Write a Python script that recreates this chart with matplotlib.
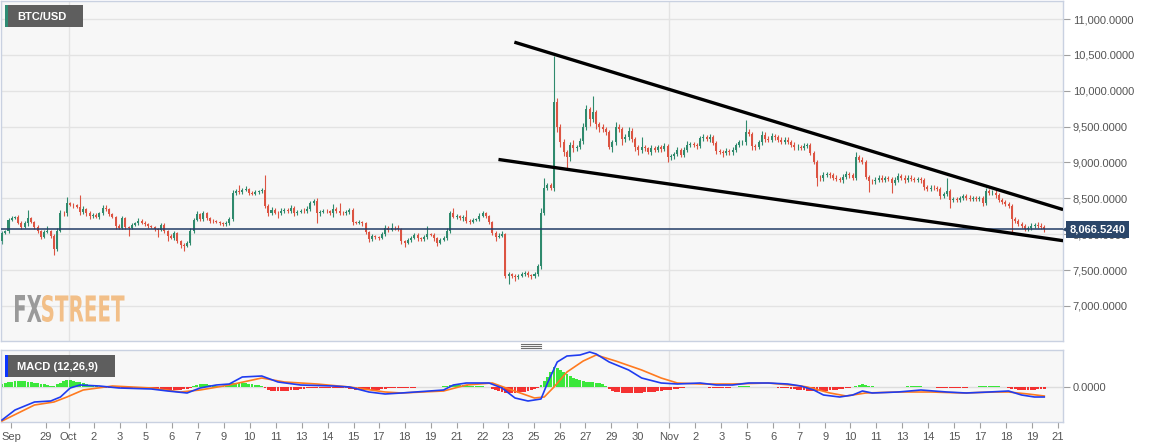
import matplotlib
matplotlib.use('Agg')
import matplotlib.pyplot as plt
import numpy as np
from matplotlib.textpath import TextPath
from matplotlib.patches import PathPatch, Rectangle
from matplotlib.font_manager import FontProperties
from matplotlib.lines import Line2D
import matplotlib.transforms as mtransforms

plt.rcParams['font.family'] = ['Liberation Sans', 'DejaVu Sans']

# ---------------- data ----------------
first_open = 7900
closes = [
    8020, 8040, 8200, 8230, 8240, 8160, 8100, 8150, 8220, 8170,
    8100, 8040, 7960, 8030, 8040, 7980, 7800, 8050, 8300, 8290,
    8430, 8410, 8400, 8380, 8310, 8350, 8290, 8250, 8270, 8240,
    8290, 8370, 8350, 8280, 8240, 8110, 8090, 8220, 8100, 8090,
    8130, 8150, 8190, 8160, 8140, 8110, 8100, 8070, 8060, 8130,
    8040, 7970, 7950, 8010, 7900, 7850, 7840, 7880, 8040, 8200,
    8280, 8210, 8290, 8220, 8190, 8180, 8170, 8150, 8140, 8160,
    8210, 8570, 8600, 8590, 8620, 8630, 8580, 8560, 8590, 8600,
    8610, 8390, 8300, 8340, 8300, 8290, 8320, 8340, 8320, 8370,
    8300, 8310, 8330, 8320, 8350, 8430, 8460, 8290, 8310, 8330,
    8320, 8300, 8350, 8320, 8300, 8290, 8310, 8340, 8170, 8160,
    8170, 8150, 8030, 7930, 7970, 7960, 7950, 8000, 8090, 8060,
    8090, 8080, 8070, 7900, 7880, 7920, 7950, 7990, 7940, 7930,
    7960, 8000, 7990, 7940, 7880, 7920, 7950, 8040, 8300, 8240,
    8250, 8220, 8240, 8190, 8170, 8200, 8210, 8260, 8290, 8250,
    8170, 8020, 7960, 7980, 8000, 7420, 7440, 7420, 7400, 7420,
    7440, 7460, 7430, 7410, 7440, 7550, 8300, 8650, 8680, 8640,
    9840, 9500, 9280, 9140, 9070, 9250, 9200, 9220, 9300, 9490,
    9740, 9600, 9700, 9540, 9490, 9470, 9420, 9220, 9280, 9500,
    9470, 9330, 9360, 9440, 9330, 9220, 9170, 9220, 9200, 9150,
    9200, 9180, 9210, 9190, 9230, 9070, 9090, 9120, 9170, 9110,
    9180, 9250, 9260, 9240, 9230, 9335, 9350, 9330, 9360, 9270,
    9160, 9150, 9130, 9160, 9140, 9170, 9240, 9280, 9290, 9420,
    9400, 9225, 9220, 9280, 9390, 9330, 9320, 9370, 9350, 9320,
    9290, 9320, 9290, 9250, 9210, 9220, 9200, 9230, 9240, 9130,
    9010, 8790, 8780, 8830, 8840, 8820, 8790, 8770, 8760, 8800,
    8840, 8820, 8790, 9070, 9040, 9010, 8800, 8740, 8735, 8760,
    8790, 8760, 8780, 8770, 8720, 8760, 8810, 8790, 8760, 8790,
    8770, 8760, 8770, 8750, 8660, 8630, 8650, 8640, 8630, 8530,
    8560, 8600, 8480, 8490, 8480, 8500, 8530, 8510, 8490, 8500,
    8490, 8500, 8430, 8600, 8570, 8580, 8540, 8480, 8450, 8420,
    8390, 8210, 8180, 8140, 8110, 8070, 8090, 8120, 8130, 8110,
    8100, 8066.524,
]
upper_wick = [
    30, 20, 30, 20, 20, 30, 20, 30, 120, 20,
    20, 30, 20, 30, 80, 20, 20, 30, 40, 30,
    95, 20, 30, 20, 160, 40, 20, 30, 20, 30,
    20, 40, 30, 20, 20, 20, 30, 30, 20, 20,
    30, 20, 40, 20, 20, 20, 20, 20, 20, 30,
    20, 20, 30, 30, 20, 20, 20, 30, 40, 30,
    40, 20, 30, 20, 20, 20, 20, 20, 20, 30,
    30, 40, 30, 90, 30, 40, 20, 20, 30, 20,
    30, 220, 30, 40, 20, 20, 40, 30, 20, 30,
    20, 30, 20, 30, 40, 30, 30, 40, 30, 20,
    20, 20, 70, 30, 120, 20, 30, 20, 30, 20,
    30, 20, 20, 20, 30, 20, 20, 30, 40, 20,
    70, 30, 50, 20, 20, 30, 30, 30, 20, 20,
    30, 110, 20, 20, 20, 20, 30, 40, 30, 60,
    30, 20, 30, 100, 20, 30, 20, 30, 30, 20,
    20, 20, 20, 30, 50, 20, 30, 20, 30, 20,
    30, 20, 20, 20, 30, 40, 60, 140, 30, 30,
    640, 60, 40, 50, 30, 40, 60, 30, 40, 60,
    60, 40, 225, 30, 20, 40, 20, 30, 40, 60,
    40, 30, 40, 50, 40, 30, 30, 130, 30, 20,
    40, 30, 30, 30, 40, 30, 30, 30, 40, 30,
    40, 50, 30, 30, 30, 40, 50, 30, 40, 30,
    30, 30, 30, 40, 30, 40, 30, 40, 30, 170,
    40, 30, 30, 40, 50, 30, 40, 40, 30, 30,
    30, 40, 30, 30, 30, 40, 30, 40, 30, 30,
    30, 30, 30, 40, 30, 30, 40, 30, 30, 40,
    40, 30, 30, 70, 40, 30, 30, 30, 30, 40,
    30, 30, 30, 30, 30, 40, 40, 30, 30, 30,
    30, 30, 30, 30, 30, 30, 30, 30, 30, 30,
    30, 180, 30, 30, 30, 30, 30, 30, 30, 30,
    30, 30, 30, 40, 30, 30, 60, 30, 30, 30,
    30, 30, 30, 30, 30, 30, 30, 40, 30, 40,
    40, 30,
]
lower_wick = [
    40, 20, 30, 20, 20, 20, 30, 20, 30, 20,
    30, 20, 30, 20, 20, 30, 90, 30, 20, 30,
    30, 20, 30, 20, 40, 30, 30, 40, 20, 20,
    30, 20, 20, 30, 20, 40, 20, 20, 30, 110,
    20, 20, 20, 20, 20, 30, 20, 20, 100, 20,
    30, 60, 20, 30, 30, 40, 70, 20, 30, 30,
    20, 30, 20, 20, 30, 20, 20, 20, 30, 20,
    30, 30, 20, 30, 30, 20, 30, 20, 20, 30,
    20, 30, 40, 30, 20, 60, 20, 20, 30, 20,
    40, 30, 20, 20, 30, 30, 20, 130, 30, 20,
    20, 30, 60, 20, 30, 20, 20, 30, 40, 20,
    20, 30, 30, 40, 20, 30, 30, 20, 20, 30,
    20, 20, 20, 40, 55, 20, 30, 20, 30, 20,
    20, 30, 20, 40, 40, 20, 20, 30, 30, 20,
    30, 20, 30, 30, 30, 20, 20, 20, 20, 30,
    30, 30, 50, 20, 20, 30, 110, 30, 60, 30,
    20, 20, 30, 30, 20, 30, 40, 30, 30, 30,
    40, 80, 60, 50, 155, 50, 60, 40, 30, 40,
    40, 90, 40, 70, 60, 40, 40, 30, 70, 30,
    50, 80, 40, 50, 40, 60, 60, 40, 40, 30,
    40, 30, 40, 40, 30, 70, 40, 40, 30, 40,
    30, 40, 30, 30, 40, 30, 30, 30, 40, 30,
    40, 30, 60, 30, 40, 30, 30, 30, 30, 40,
    30, 50, 40, 30, 30, 40, 30, 30, 30, 30,
    30, 30, 30, 30, 30, 30, 30, 30, 30, 30,
    30, 125, 40, 40, 30, 30, 30, 30, 30, 40,
    30, 30, 30, 30, 30, 30, 30, 145, 40, 30,
    30, 30, 30, 30, 140, 30, 30, 30, 40, 30,
    30, 30, 30, 30, 40, 30, 30, 30, 30, 40,
    30, 30, 110, 30, 30, 30, 30, 30, 30, 30,
    30, 30, 40, 30, 30, 30, 30, 30, 30, 30,
    30, 175, 30, 30, 30, 30, 30, 30, 30, 30,
    30, 30,
]
last_price = 8066.524

# wedge trend lines (candle index, price)
trend_upper_x = [157.8, 326.8]
trend_upper_y = [10678, 8343]
trend_lower_x = [152.9, 326.8]
trend_lower_y = [9042, 7909]

# MACD (12,26,9)
macd_idx = [0, 4, 10, 15, 18, 21, 24, 30, 36, 46, 51, 57, 61, 66, 70, 74, 80, 85, 92, 102,
            107, 113, 118, 123, 136, 139, 143, 150, 154, 158, 162, 166, 168, 171, 174, 178,
            181, 183, 187, 193, 197, 203, 208, 215, 220, 225, 230, 236, 242, 246, 250, 253,
            258, 262, 265, 268, 276, 283, 291, 297, 304, 310, 314, 318, 321]
macd_vals = [-330, -230, -150, -140, -100, -10, 20, 10, -10, -20, -40, -60, -10, 20, 30, 100,
             110, 50, 20, 10, 0, -50, -70, -60, -30, 20, 40, 40, -10, -110, -140, -120, 40,
             250, 310, 320, 350, 330, 250, 170, 90, 40, 30, 40, 20, 20, 40, 40, 30, 10, -30,
             -80, -100, -80, -40, -60, -50, -30, -50, -60, -50, -40, -80, -100, -100]
signal_idx = [0, 10, 16, 20, 25, 34, 46, 55, 61, 70, 80, 87, 97, 107, 118, 123, 136, 143,
              151, 157, 164, 167, 170, 174, 179, 183, 189, 197, 203, 208, 215, 225, 236, 246,
              248, 255, 260, 266, 276, 286, 296, 306, 310, 316, 321]
signal_vals = [-340, -180, -150, -100, -30, 10, -10, -50, -30, 20, 90, 50, 30, 0, -50, -60,
               -40, 20, 40, -30, -110, -100, 0, 150, 260, 320, 260, 170, 90, 40, 30, 30, 40,
               10, 0, -60, -90, -60, -50, -50, -60, -50, -50, -70, -90]
macd_hist = [
    30, 40, 50, 55, 60, 65, 65, 60, 55, 50,
    45, 40, 35, 30, 25, 15, 15, 30, 45, 60,
    70, 70, 65, 55, 50, 40, 30, 20, 15, 10,
    5, 0, -5, -5, -10, -10, -10, -10, -5, -5,
    -5, -5, -5, -10, -10, -10, -10, -15, -20, -25,
    -30, -30, -30, -30, -25, -25, -20, -15, -10, 10,
    20, 30, 30, 30, 25, 20, 10, 5, 10, 20,
    30, 40, 45, 45, 40, 40, 35, 30, 25, 20,
    10, -10, -25, -35, -40, -40, -40, -35, -35, -30,
    -30, -25, -20, -15, -10, -10, -10, -5, -5, -5,
    -5, -5, -5, -5, -5, -10, -10, -15, -20, -25,
    -25, -30, -30, -30, -30, -30, -25, -20, -15, -10,
    -10, -5, -5, -5, -5, -5, -5, -5, 0, 0,
    5, 5, 5, 5, 5, 5, 10, 15, 20, 20,
    20, 20, 20, 20, 15, 15, 15, 10, 10, 5,
    0, -15, -25, -35, -45, -55, -60, -60, -60, -55,
    -50, -45, -40, -30, -20, -10, 20, 60, 100, 150,
    200, 190, 170, 150, 130, 110, 90, 80, 70, 60,
    55, 50, 50, 45, 40, 30, 10, -20, -35, -45,
    -50, -55, -55, -60, -60, -60, -55, -55, -50, -50,
    -45, -45, -40, -35, -30, -30, -25, -20, -15, -10,
    -10, 0, 5, 5, 5, 5, 5, 0, -5, -10,
    -10, -10, -10, -5, -5, 0, 5, 10, 10, 10,
    10, 5, 5, 5, 5, 5, 5, 0, 0, -5,
    -5, -10, -10, -15, -20, -25, -30, -30, -35, -35,
    -40, -40, -40, -40, -35, -30, -30, -25, -20, -15,
    -10, -5, 0, 15, 25, 30, 25, 15, 10, 5,
    5, 5, 0, 0, 0, 5, 5, 5, 5, 10,
    10, 10, 10, 10, 5, 5, 0, 0, -5, -5,
    -10, -10, -10, -10, -10, -10, -5, -5, 0, 5,
    5, 10, 10, 15, 15, 15, 10, 10, 5, 0,
    -5, -15, -20, -25, -25, -25, -25, -25, -25, -20,
    -20, -15,
]

# x-axis labels at candle positions
tick_pos = [2.8, 13.5, 20.5, 28.3, 36.3, 44.3, 52.3, 60.3, 68.3, 76.3, 84.3, 92.3, 100.3,
            108.3, 116.0, 124.0, 132.0, 140.0, 148.0, 155.7, 163.7, 171.7, 179.7, 187.7,
            195.7, 205.5, 213.5, 221.5, 229.5, 237.5, 245.5, 253.5, 261.2, 269.2, 277.2,
            285.2, 293.2, 301.2, 309.2, 317.2, 325.2]
tick_labels = ['Sep', '29', 'Oct', '2', '3', '5', '6', '7', '9', '10', '11', '13', '14',
               '15', '17', '18', '19', '21', '22', '23', '25', '26', '27', '29', '30',
               'Nov', '2', '3', '5', '6', '7', '9', '10', '11', '13', '14', '15', '17',
               '18', '19', '21']
month_pos = [20.5, 205.5]
price_ticks = [7000, 7500, 8000, 8500, 9000, 9500, 10000, 10500, 11000]

# ---------------- style ----------------
GREEN = '#2f8a6d'
RED = '#dc5442'
BG = '#f7f7f7'
GRID = '#e3e3e3'
SPINE = '#c9d1e1'
TXT = '#555555'

W, H = 1153, 448
fig = plt.figure(figsize=(W / 100, H / 100), dpi=100)
fig.patch.set_facecolor('white')


def fx(px):
    return px / W


def fy(py):
    return 1 - py / H


ax = fig.add_axes([fx(1), fy(341), fx(1063) - fx(1), fy(1) - fy(341)])
ax2 = fig.add_axes([fx(1), fy(422), fx(1063) - fx(1), fy(350) - fy(422)])

xlim = (-0.31, 326.77)
for a in (ax, ax2):
    a.set_facecolor(BG)
    a.set_xlim(*xlim)
    a.set_axisbelow(True)
    for s in a.spines.values():
        s.set_color(SPINE)
        s.set_linewidth(1)
    for m in month_pos:
        a.axvline(m, color=GRID, lw=1, zorder=0)

# ---- candles ----
n = min(len(closes), len(upper_wick), len(lower_wick))
c = np.array(closes[:n], float)
o = np.concatenate([[first_open], c[:-1]])
hi = np.maximum(o, c) + np.array(upper_wick[:n], float)
lo = np.minimum(o, c) - np.array(lower_wick[:n], float)
x = np.arange(n)
cols = np.where(c >= o, GREEN, RED)
ax.vlines(x, lo, hi, colors=cols, lw=0.8, zorder=2)
body = np.maximum(np.abs(c - o), 10)
ax.bar(x, body, bottom=np.minimum(o, c), width=0.62, color=cols, linewidth=0, zorder=3)

ax.set_ylim(6510, 11252)
ax.set_yticks(price_ticks)
ax.set_yticklabels([f'{v:,.4f}' for v in price_ticks])
ax.yaxis.grid(True, color=GRID, lw=1)
ax.tick_params(axis='y', left=False, labelleft=False, right=True, labelright=True,
               length=5, color='#a0a0a0', labelsize=8, labelcolor=TXT, pad=2)
ax.tick_params(axis='x', bottom=False, labelbottom=False)

# current price line and label
ax.axhline(last_price, color='#223c66', lw=1.1, zorder=4)
ax.text(1.006, last_price, f'{last_price:,.4f}', transform=ax.get_yaxis_transform(),
        va='center', ha='left', color='white', fontsize=8, fontweight='bold',
        bbox=dict(boxstyle='square,pad=0.3', fc='#2b4669', ec='none'), zorder=10,
        clip_on=False)
ax.plot([1.003], [last_price], marker='<', ms=5, color='#2b4669',
        transform=ax.get_yaxis_transform(), clip_on=False, zorder=10)

# wedge lines
ax.plot(trend_upper_x, trend_upper_y, color='black', lw=2.4, zorder=5, solid_capstyle='butt')
ax.plot(trend_lower_x, trend_lower_y, color='black', lw=2.4, zorder=5, solid_capstyle='butt')

# ---- MACD ----
nh = len(macd_hist)
hx = np.arange(nh)
hv = np.array(macd_hist, float)
hcol = np.where(hv >= 0, '#26e626', '#f51c1c')
ax2.bar(hx, hv, width=0.9, color=hcol, linewidth=0, zorder=2, alpha=0.9)
ax2.axhline(0, color='#dddddd', lw=1, zorder=1)
ax2.plot(signal_idx, signal_vals, color='#ff7a1f', lw=1.2, zorder=3)
ax2.plot(macd_idx, macd_vals, color='#1f3cf0', lw=1.2, zorder=4)
ax2.set_ylim(-350, 370)
ax2.set_yticks([0])
ax2.set_yticklabels(['0.0000'])
ax2.tick_params(axis='y', left=False, labelleft=False, right=True, labelright=True,
                length=5, color='#a0a0a0', labelsize=8, labelcolor=TXT, pad=2)
ax2.set_xticks(tick_pos)
ax2.set_xticklabels(tick_labels)
ax2.tick_params(axis='x', length=4, color='#a0a0a0', labelsize=8, labelcolor=TXT, pad=3)


# ---- label boxes ----
def label_box(x0, y0, x1, y1, stripe, text, tw):
    fig.add_artist(Rectangle((fx(x0), fy(y1)), fx(x1) - fx(x0), fy(y0) - fy(y1),
                             transform=fig.transFigure, fc='#5e5e5e', ec='none', zorder=20))
    fig.add_artist(Rectangle((fx(x0), fy(y1)), fx(x0 + 2.5) - fx(x0), fy(y0) - fy(y1),
                             transform=fig.transFigure, fc=stripe, ec='none', zorder=21))
    fig.text(fx(x0 + 12), fy((y0 + y1) / 2 + 0.5), text, color='white', fontsize=tw,
             va='center', ha='left', fontweight='bold', zorder=22)


label_box(5, 5, 83, 27, '#2e8b74', 'BTC/USD', 8)
label_box(5, 355, 115, 377, '#0a35ff', 'MACD (12,26,9)', 8)

# ---- watermark ----
fp = FontProperties(family='DejaVu Sans', weight='bold')
for word, x0, x1, colr in [('FX', 15, 41.5, '#9a9a9a'), ('STREET', 42, 124.5, '#f2bf88')]:
    tp = TextPath((0, 0), word, size=40, prop=fp)
    bb = tp.get_extents()
    tr = (mtransforms.Affine2D().translate(-bb.x0, -bb.y0)
          .scale((x1 - x0) / bb.width, 27 / bb.height)
          .translate(x0, H - 322))
    fig.add_artist(PathPatch(tr.transform_path(tp), transform=mtransforms.IdentityTransform(),
                             fc=colr, ec='none', zorder=6))

# panel resize handle
for yy in (344, 346, 348):
    fig.add_artist(Line2D([fx(521), fx(541)], [fy(yy), fy(yy)], transform=fig.transFigure,
                          color='#6e6e6e', lw=0.8))

fig.savefig('out.png', dpi=100, facecolor='white')
